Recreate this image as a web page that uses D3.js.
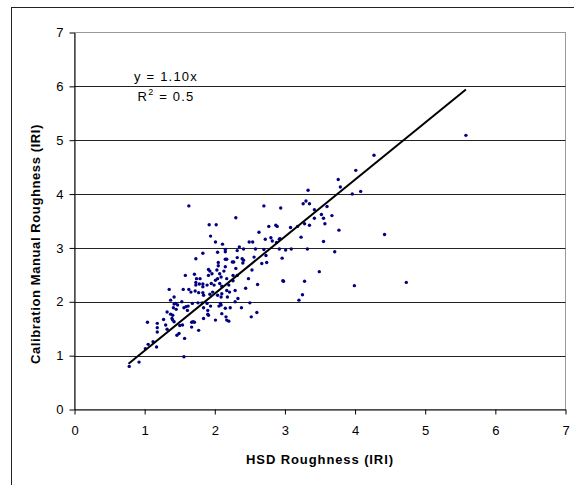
<!DOCTYPE html>
<html>
<head>
<meta charset="utf-8">
<script src="https://cdn.jsdelivr.net/npm/d3@7"></script>
<style>
  body { margin: 0; background: #fff; }
  text { font-family: Arial, "Liberation Sans", sans-serif; }
</style>
</head>
<body>
<svg class="chart" width="574" height="485"></svg>
<script>
// HSD roughness (x) vs calibration manual roughness (y), IRI
let hsd = [
  5.58, 4.27, 4.01, 3.76, 3.79, 4.08, 3.96, 3.67, 3.77, 4.42, 3.71, 3.99, 4.73,
  3.33, 2.94, 3.26, 3.30, 3.35, 3.42, 3.60, 3.52, 3.55, 3.42, 3.57, 3.35, 3.28, 3.18, 3.08,
  3.23, 3.55, 2.93, 3.01, 3.09, 3.32, 2.96, 3.49, 2.98, 3.28, 3.25, 3.20,
  2.70, 2.77, 2.87, 2.89, 2.63, 2.72, 2.80, 2.82, 2.92, 2.88, 2.49, 2.54, 2.58, 2.92, 2.41,
  2.30, 1.92, 2.02, 1.94, 2.01, 2.11, 2.35, 2.32, 2.15, 2.15, 2.70, 1.83, 2.04, 2.32, 2.39,
  2.41, 2.56, 2.73, 1.73, 2.15, 2.17, 2.05, 2.25, 2.27, 2.40, 2.05, 2.15, 1.91, 2.30, 2.67, 2.74,
  1.63, 2.03, 2.17, 2.18, 2.10, 2.06, 2.09, 2.22, 2.29, 2.38, 2.44, 2.50, 2.52, 2.60, 2.61, 2.97,
  2.16, 2.17, 2.20, 2.01, 1.90, 1.69, 2.48, 2.53,
  1.58, 1.71, 1.74, 1.93, 1.96, 1.91, 1.79, 2.07, 2.09, 2.13, 2.01, 2.04, 2.17, 2.26, 2.32,
  1.73, 1.73, 1.78, 1.83, 1.83, 1.89, 1.95, 1.99, 2.07, 2.10, 1.35, 1.55, 1.63, 1.66, 1.72,
  1.77, 1.83, 1.84, 1.93, 1.97, 2.04, 2.09, 2.21, 2.20, 2.26, 1.37, 1.42, 1.47, 1.44, 1.53,
  1.59, 1.61, 1.68, 1.76, 1.89, 1.94, 1.32, 1.37, 1.40, 1.39, 1.84, 2.10, 2.15, 2.08, 2.33, 2.29,
  0.78, 0.92, 1.01, 1.05, 1.12, 1.17, 1.04, 1.18, 1.18, 1.18, 1.27, 1.30, 1.32, 1.40, 1.42,
  1.42, 1.41, 1.45, 1.56, 1.62, 1.82, 1.84, 1.90, 1.91, 1.54, 1.50, 1.67, 1.71, 1.67, 1.77,
  1.46, 1.49, 1.57, 1.56
]
let manual = [
  5.09, 4.72, 4.44, 4.27, 4.13, 4.05, 4.00, 3.60, 3.33, 3.25, 2.93, 2.30, 2.36,
  4.07, 3.74, 3.82, 3.87, 3.82, 3.71, 3.77, 3.62, 3.55, 3.55, 3.45, 3.42, 3.45, 3.40, 3.38,
  3.20, 3.12, 3.17, 2.96, 2.98, 2.98, 2.81, 2.56, 2.38, 2.38, 2.13, 2.03,
  3.78, 3.40, 3.42, 3.40, 3.29, 3.16, 3.19, 3.13, 3.16, 3.10, 3.11, 3.11, 2.98, 2.98, 2.98,
  3.56, 3.43, 3.43, 3.22, 3.11, 3.07, 3.02, 2.95, 2.97, 2.93, 2.97, 2.90, 2.92, 2.82, 2.80,
  2.77, 2.83, 2.86, 2.80, 2.79, 2.79, 2.73, 2.74, 2.74, 2.72, 2.67, 2.65, 2.60, 2.62, 2.71, 2.73,
  3.78, 2.59, 2.21, 2.09, 2.15, 1.92, 1.94, 1.89, 2.21, 1.89, 2.25, 1.98, 1.72, 1.80, 2.32, 2.39,
  1.72, 1.66, 1.64, 1.66, 1.77, 1.63, 2.43, 2.59,
  2.49, 2.51, 2.43, 2.57, 2.52, 2.49, 2.43, 2.52, 2.46, 2.57, 2.40, 2.43, 2.43, 2.49, 2.49,
  2.36, 2.31, 2.33, 2.33, 2.28, 2.31, 2.34, 2.31, 2.34, 2.29, 2.23, 2.23, 2.23, 2.18, 2.20,
  2.17, 2.17, 2.12, 2.14, 2.18, 2.12, 2.09, 2.18, 2.31, 2.39, 2.03, 2.09, 1.94, 1.97, 2.00,
  1.91, 1.84, 1.97, 1.98, 1.97, 1.92, 1.81, 1.77, 1.75, 1.69, 1.69, 1.78, 1.88, 1.97, 2.06, 2.00,
  0.80, 0.88, 1.13, 1.21, 1.26, 1.16, 1.62, 1.60, 1.52, 1.44, 1.67, 1.57, 1.49, 1.66, 1.63,
  1.96, 1.89, 1.86, 1.89, 1.92, 1.98, 1.89, 1.84, 1.75, 1.57, 1.56, 1.62, 1.62, 1.53, 1.47,
  1.38, 1.41, 1.32, 0.98
]

// linear trend line end points, as drawn
let trendX = [0.77, 5.58]
let trendY = [0.85, 5.94]

let xTicks = [0, 1, 2, 3, 4, 5, 6, 7]
let yTicks = [0, 1, 2, 3, 4, 5, 6, 7]
let gridTicks = [1, 2, 3, 4, 5, 6]

let points = hsd.map((d, i) => ({ x: d, y: manual[i] }))

let svg = d3.select('.chart')

// outer chart frame
svg.append('rect')
  .attr('x', 11.5).attr('y', 7.5)
  .attr('width', 620).attr('height', 520)
  .attr('fill', 'none')
  .attr('stroke', '#222')
  .attr('stroke-width', 1)

let x = d3.scaleLinear().domain([0, 7]).range([74.5, 565.5])
let y = d3.scaleLinear().domain([0, 7]).range([409.5, 32.5])

// plot area border (gray)
svg.append('rect')
  .attr('x', x(0)).attr('y', y(7))
  .attr('width', x(7) - x(0)).attr('height', y(0) - y(7))
  .attr('fill', 'none')
  .attr('stroke', '#999')

// gridlines
svg.append('g')
  .selectAll('line')
  .data(gridTicks)
  .enter()
  .append('line')
    .attr('x1', x(0)).attr('x2', x(7))
    .attr('y1', d => Math.round(y(d)) + 0.5)
    .attr('y2', d => Math.round(y(d)) + 0.5)
    .attr('stroke', '#222')

// axes
let yAxis = svg.append('g')
  .attr('transform', 'translate(' + x(0) + ',0)')
  .call(d3.axisLeft(y).tickValues(yTicks).tickFormat(d3.format('d')).tickSize(5).tickPadding(6).tickSizeOuter(0))

let xAxis = svg.append('g')
  .attr('transform', 'translate(0,' + y(0) + ')')
  .call(d3.axisBottom(x).tickValues(xTicks).tickFormat(d3.format('d')).tickSize(5).tickPadding(11).tickSizeOuter(0))

svg.selectAll('.domain').attr('stroke', '#000')
svg.selectAll('.tick line').attr('stroke', '#000')
svg.selectAll('.tick text')
  .attr('font-size', 13)
  .attr('font-family', 'Arial, "Liberation Sans", sans-serif')
  .attr('fill', '#000')

// data points
svg.append('g')
  .selectAll('circle')
  .data(points)
  .enter()
  .append('circle')
    .attr('cx', d => x(d.x))
    .attr('cy', d => y(d.y))
    .attr('r', 1.7)
    .attr('fill', '#000080')

// trend line
svg.append('line')
  .attr('x1', x(trendX[0])).attr('y1', y(trendY[0]))
  .attr('x2', x(trendX[1])).attr('y2', y(trendY[1]))
  .attr('stroke', '#000')
  .attr('stroke-width', 2)

// equation labels
svg.append('text')
  .attr('x', 166).attr('y', 81)
  .attr('text-anchor', 'middle')
  .attr('font-size', 13)
  .attr('letter-spacing', 1.2)
  .text('y = 1.10x')

let r2 = svg.append('text')
  .attr('x', 166).attr('y', 101)
  .attr('text-anchor', 'middle')
  .attr('font-size', 13)
  .attr('letter-spacing', 1.2)
r2.append('tspan').text('R')
r2.append('tspan').attr('font-size', 9).attr('dy', -6).text('2')
r2.append('tspan').attr('dy', 6).text(' = 0.5')

// axis titles
svg.append('text')
  .attr('x', x(3.5)).attr('y', 464)
  .attr('text-anchor', 'middle')
  .attr('font-size', 13)
  .attr('font-weight', 'bold')
  .attr('letter-spacing', 0.9)
  .text('HSD Roughness (IRI)')

svg.append('text')
  .attr('transform', 'translate(40,244) rotate(-90)')
  .attr('text-anchor', 'middle')
  .attr('font-size', 13)
  .attr('font-weight', 'bold')
  .attr('letter-spacing', 0.6)
  .text('Calibration Manual Roughness (IRI)')
</script>
</body>
</html>
